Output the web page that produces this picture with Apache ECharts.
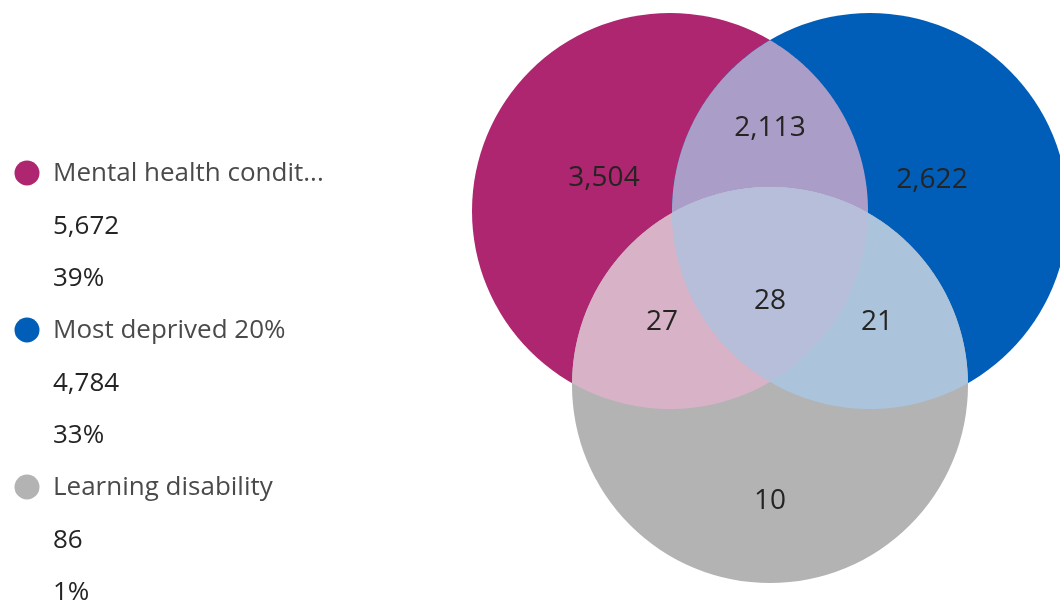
<!DOCTYPE html>
<html><head><meta charset="utf-8">
<script src="https://cdn.jsdelivr.net/npm/echarts@6/dist/echarts.min.js"></script>
<style>html,body{margin:0;padding:0;background:#fff}#c{width:1060px;height:606px}</style>
</head><body><div id="c"></div>
<script>
// ---- data ----
const setNames = ['Mental health condition', 'Most deprived 20%', 'Learning disability'];
const setTotals = [5672, 4784, 86];
const setShares = [39, 33, 1]; // percent of population
const regionSets = [[0], [1], [2], [0, 1], [0, 2], [1, 2], [0, 1, 2]];
const regionValues = [3504, 2622, 10, 2113, 27, 21, 28];

// ---- styles ----
const setColors = ['#AE2570', '#005EB8', '#B3B3B3'];
const regionColors = [null, null, null, '#AA9EC8', '#D8B3C8', '#ABC4DB', '#B6BED9'];
const FONT = '"Segoe UI", "Open Sans", sans-serif';

// ---- layout (unit coordinates on hidden axes) ----
const centers = [[-0.5, 0], [0.5, 0], [0, -0.87]];
const radius = 0.99;
const labelAnchors = [[-0.83, 0.165], [0.81, 0.155], [0, -1.45], [0, 0.415], [-0.54, -0.555], [0.535, -0.555], [0, -0.45]];

const fmt = v => Number(v).toLocaleString('en-US');

function circlePoly(c, r, n) {
  const pts = [];
  for (let i = 0; i < n; i++) {
    const a = 2 * Math.PI * i / n;
    pts.push([c[0] + r * Math.cos(a), c[1] + r * Math.sin(a)]);
  }
  return pts;
}
function clip(subject, clipPoly) {
  let out = subject;
  const cross = (a, b, p) => (b[0] - a[0]) * (p[1] - a[1]) - (b[1] - a[1]) * (p[0] - a[0]);
  for (let i = 0; i < clipPoly.length; i++) {
    const a = clipPoly[i], b = clipPoly[(i + 1) % clipPoly.length];
    const input = out; out = [];
    if (!input.length) break;
    for (let j = 0; j < input.length; j++) {
      const p = input[j], q = input[(j + 1) % input.length];
      const cp = cross(a, b, p), cq = cross(a, b, q);
      if (cp >= 0) out.push(p);
      if ((cp >= 0) !== (cq >= 0)) {
        const t = cp / (cp - cq);
        out.push([p[0] + t * (q[0] - p[0]), p[1] + t * (q[1] - p[1])]);
      }
    }
  }
  return out;
}

function renderItem(params, api) {
  const i = api.value(0);
  const sets = regionSets[i];
  const rpx = api.size([radius, 0])[0];
  let el;
  if (sets.length === 1) {
    const c = api.coord(centers[sets[0]]);
    el = { type: 'circle', shape: { cx: c[0], cy: c[1], r: rpx }, style: { fill: setColors[sets[0]] } };
  } else {
    let p = circlePoly(api.coord(centers[sets[0]]), rpx, 720);
    for (let k = 1; k < sets.length; k++) p = clip(p, circlePoly(api.coord(centers[sets[k]]), rpx, 720));
    el = { type: 'polygon', shape: { points: p }, style: { fill: regionColors[i] } };
  }
  const lp = api.coord(labelAnchors[i]);
  const txt = {
    type: 'text', x: lp[0], y: lp[1], z2: 100,
    style: { text: fmt(api.value(1)), fill: '#252423', font: '28px ' + FONT, align: 'center', verticalAlign: 'middle' }
  };
  return { type: 'group', children: [el, txt] };
}

// legend built from data arrays
const legendChildren = [];
setNames.forEach((n, i) => {
  const y = 174 + i * 157;
  legendChildren.push({ type: 'circle', shape: { cx: 27, cy: y - 1, r: 12.5 }, style: { fill: setColors[i] } });
  legendChildren.push({ type: 'text', x: 53, y: y, style: { text: n, width: 278, overflow: 'truncate', ellipsis: '...', fill: '#4a4a4a', font: '26px ' + FONT, verticalAlign: 'middle' } });
  legendChildren.push({ type: 'text', x: 53, y: y + 52.3, style: { text: fmt(setTotals[i]), fill: '#252423', font: '26px ' + FONT, verticalAlign: 'middle' } });
  legendChildren.push({ type: 'text', x: 53, y: y + 104.6, style: { text: setShares[i] + '%', fill: '#252423', font: '26px ' + FONT, verticalAlign: 'middle' } });
});

const chart = echarts.init(document.getElementById('c'), null, { renderer: 'canvas' });
chart.setOption({
  backgroundColor: '#fff',
  animation: false,
  grid: { left: 470, top: 0, width: 590, height: 606, outerBoundsMode: 'none' },
  xAxis: { type: 'value', min: -1.5, max: 1.45, show: false },
  yAxis: { type: 'value', min: -1.975, max: 1.055, show: false },
  graphic: [{ type: 'group', children: legendChildren }],
  series: [{
    type: 'custom',
    clip: false,
    renderItem: renderItem,
    encode: { x: 0, y: -1 },
    data: regionValues.map((v, i) => [i, v])
  }]
});
</script></body></html>
